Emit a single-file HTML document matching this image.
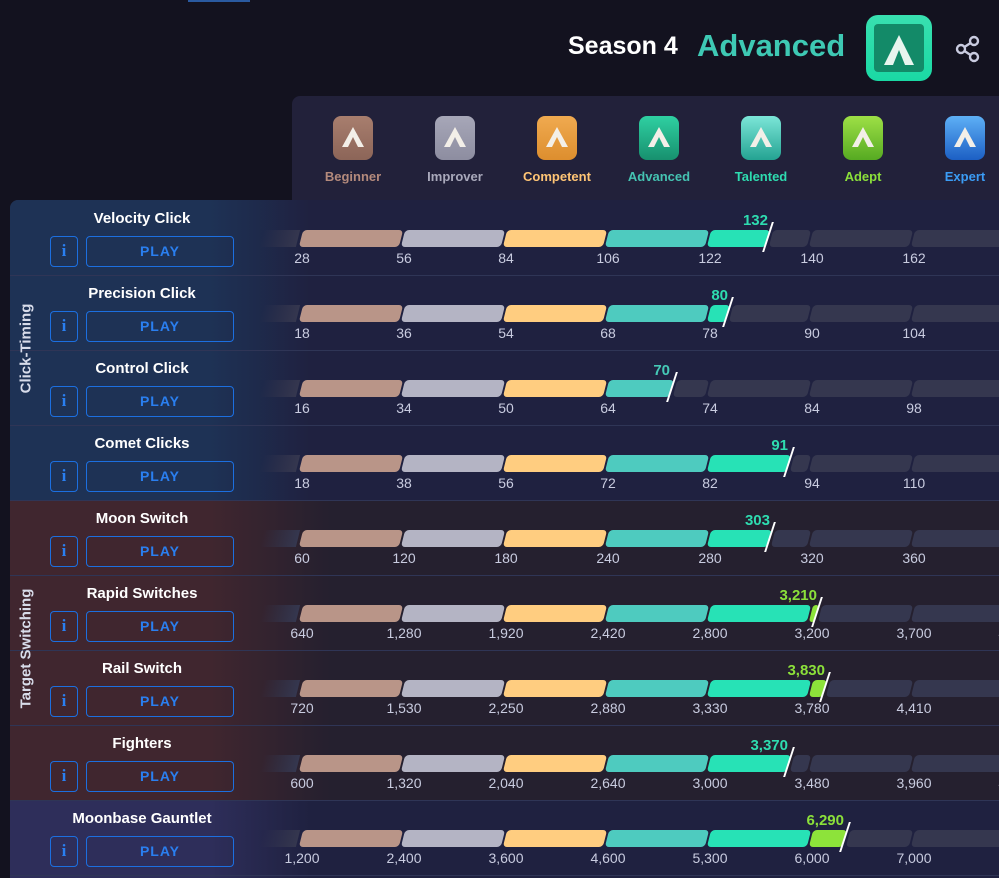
<!DOCTYPE html>
<html><head><meta charset="utf-8"><style>
*{margin:0;padding:0;box-sizing:border-box}
body{width:999px;height:878px;background:#13121f;position:relative;overflow:hidden;font-family:"Liberation Sans",sans-serif}
.a{position:absolute}
.s{position:absolute;height:17px;transform:skewX(-14deg);border-radius:4px}
.d{background:#35374f}
.c0{background:#b99588}.c1{background:#b4b4c4}.c2{background:#ffcd80}.c3{background:#4ecbbf}.c4{background:#27e2b6}.c5{background:#8de33a}
.t{position:absolute;width:80px;margin-left:-40px;text-align:center;font-size:14px;color:#c9cce0}
.nm{position:absolute;left:40px;width:204px;text-align:center;color:#fff;font-weight:bold;font-size:15px}
.ib{position:absolute;left:50px;width:28px;height:31px;border:1.5px solid #1c6fe0;border-radius:4px;color:#2a7ff0;font-weight:bold;font-size:17px;text-align:center;line-height:28px;font-family:"Liberation Serif",serif}
.pb{position:absolute;left:86px;width:148px;height:31px;border:1.5px solid #1c6fe0;border-radius:4px;color:#2a7ff0;font-weight:bold;font-size:14px;text-align:center;line-height:28px;letter-spacing:1px}
.sc{position:absolute;font-weight:bold;font-size:15px;text-align:right;width:80px}
.mk{position:absolute;width:2px;height:30px;background:#fff;transform:skewX(-18deg)}
.ln{position:absolute;left:10px;width:989px;height:1px;background:#2f3556}
.lead{position:absolute;left:262px;width:36px;height:17px;background:linear-gradient(90deg,rgba(53,55,79,0),#35374f);transform:skewX(-14deg)}
.bd{position:absolute;width:40px;height:44px;border-radius:8px}
.bd svg{position:absolute;left:9px;top:11px}
.tl{position:absolute;width:100px;margin-left:-50px;text-align:center;font-size:13px;font-weight:bold;top:169px}
.cat{position:absolute;color:#d8dcea;font-weight:bold;font-size:15px;transform:rotate(-90deg);white-space:nowrap;text-align:center;width:200px;left:-74px}
</style></head><body>
<div class="a" style="left:188px;top:0;width:62px;height:2px;background:#2a5aa0"></div>
<div class="a" style="left:568px;top:32px;color:#fff;font-weight:bold;font-size:25px">Season 4</div>
<div class="a" style="left:697px;top:28px;color:#3ec9b4;font-weight:bold;font-size:31px">Advanced</div>
<div class="a" style="left:866px;top:15px;width:66px;height:66px;border-radius:12px;background:linear-gradient(#39e0b0,#1ad9a4)"><div class="a" style="left:8px;top:9px;width:50px;height:48px;background:#138a68;border-radius:4px"></div><svg class="a" style="left:18px;top:20px" width="30" height="30"><polygon points="15,0 30,30 21,30 15,15 9,30 0,30" fill="#e8f5ee"/></svg></div>
<svg class="a" style="left:955px;top:35px" width="26" height="28"><g fill="none" stroke="#c9cbe0" stroke-width="2.4"><circle cx="19" cy="6" r="4"/><circle cx="6" cy="14" r="4"/><circle cx="19" cy="22" r="4"/><path d="M9.5 12 L15.5 8 M9.5 16 L15.5 20"/></g></svg>

<div class="a" style="left:292px;top:96px;width:707px;height:104px;background:#22213a;border-radius:8px 0 0 0"></div>
<div class="bd" style="left:333px;top:116px;background:linear-gradient(#a87e6e,#8c6558)"><svg width="22" height="20"><polygon points="11,0 22,20 16,20 11,10 6,20 0,20" fill="#f3efe8"/></svg></div>
<div class="bd" style="left:435px;top:116px;background:linear-gradient(#a7a7b8,#8d8da0)"><svg width="22" height="20"><polygon points="11,0 22,20 16,20 11,10 6,20 0,20" fill="#f3efe8"/></svg></div>
<div class="bd" style="left:537px;top:116px;background:linear-gradient(#f0aa50,#dd8e2e)"><svg width="22" height="20"><polygon points="11,0 22,20 16,20 11,10 6,20 0,20" fill="#f3efe8"/></svg></div>
<div class="bd" style="left:639px;top:116px;background:linear-gradient(#2fd0a2,#17906e)"><svg width="22" height="20"><polygon points="11,0 22,20 16,20 11,10 6,20 0,20" fill="#f3efe8"/></svg></div>
<div class="bd" style="left:741px;top:116px;background:linear-gradient(#7ce6d8,#24a392)"><svg width="22" height="20"><polygon points="11,0 22,20 16,20 11,10 6,20 0,20" fill="#f3efe8"/></svg></div>
<div class="bd" style="left:843px;top:116px;background:linear-gradient(#9ee046,#56aa22)"><svg width="22" height="20"><polygon points="11,0 22,20 16,20 11,10 6,20 0,20" fill="#f3efe8"/></svg></div>
<div class="bd" style="left:945px;top:116px;background:linear-gradient(#5eb0f6,#1c5fc4)"><svg width="22" height="20"><polygon points="11,0 22,20 16,20 11,10 6,20 0,20" fill="#f3efe8"/></svg></div>
<div class="tl" style="left:353px;color:#b48a7c">Beginner</div>
<div class="tl" style="left:455px;color:#a9a9bb">Improver</div>
<div class="tl" style="left:557px;color:#ffc575">Competent</div>
<div class="tl" style="left:659px;color:#45c3b2">Advanced</div>
<div class="tl" style="left:761px;color:#2edcb0">Talented</div>
<div class="tl" style="left:863px;color:#8be03a">Adept</div>
<div class="tl" style="left:965px;color:#3b9cf5">Expert</div>

<div class="a" style="left:10px;top:200px;width:989px;height:678px;background:#1f2140;border-radius:8px 0 0 0;overflow:hidden">
<div class="a" style="left:0;top:0;width:989px;height:300px;background:linear-gradient(90deg,#1e3255 0,#1e3255 200px,#1f2140 300px)"></div>
<div class="a" style="left:0;top:300px;width:989px;height:300px;background:linear-gradient(90deg,#40262f 0,#40262f 200px,#25202f 320px)"></div>
<div class="a" style="left:0;top:600px;width:989px;height:78px;background:linear-gradient(90deg,#2e2e5a 0,#2e2e5a 200px,#1f2140 300px)"></div>
</div>
<div class="ln" style="top:275px"></div><div class="ln" style="top:350px"></div><div class="ln" style="top:425px"></div><div class="ln" style="top:500px"></div><div class="ln" style="top:575px"></div><div class="ln" style="top:650px"></div><div class="ln" style="top:725px"></div><div class="ln" style="top:800px"></div><div class="ln" style="top:875px"></div>
<div class="cat" style="top:340px">Click-Timing</div>
<div class="cat" style="top:640px">Target Switching</div>

<!-- Row 1 -->
<div class="nm" style="top:210px">Velocity Click</div><div class="ib" style="top:236px">i</div><div class="pb" style="top:236px">PLAY</div>
<div class="lead" style="top:230px"></div>
<div class="s c0" style="left:301px;top:230px;width:100px"></div><div class="s c1" style="left:403px;top:230px;width:100px"></div><div class="s c2" style="left:505px;top:230px;width:100px"></div><div class="s c3" style="left:607px;top:230px;width:100px"></div><div class="s c4" style="left:709px;top:230px;width:59px"></div><div class="s d" style="left:771px;top:230px;width:38px"></div><div class="s d" style="left:811px;top:230px;width:100px"></div><div class="s d" style="left:913px;top:230px;width:100px"></div>
<div class="mk" style="left:767px;top:222px"></div><div class="sc" style="left:688px;top:212px;color:#2edcb0">132</div>
<div class="t" style="left:302px;top:250px">28</div><div class="t" style="left:404px;top:250px">56</div><div class="t" style="left:506px;top:250px">84</div><div class="t" style="left:608px;top:250px">106</div><div class="t" style="left:710px;top:250px">122</div><div class="t" style="left:812px;top:250px">140</div><div class="t" style="left:914px;top:250px">162</div>

<!-- Row 2 -->
<div class="nm" style="top:285px">Precision Click</div><div class="ib" style="top:311px">i</div><div class="pb" style="top:311px">PLAY</div>
<div class="lead" style="top:305px"></div>
<div class="s c0" style="left:301px;top:305px;width:100px"></div><div class="s c1" style="left:403px;top:305px;width:100px"></div><div class="s c2" style="left:505px;top:305px;width:100px"></div><div class="s c3" style="left:607px;top:305px;width:100px"></div><div class="s c4" style="left:709px;top:305px;width:19px"></div><div class="s d" style="left:731px;top:305px;width:78px"></div><div class="s d" style="left:811px;top:305px;width:100px"></div><div class="s d" style="left:913px;top:305px;width:100px"></div>
<div class="mk" style="left:727px;top:297px"></div><div class="sc" style="left:648px;top:287px;color:#2edcb0">80</div>
<div class="t" style="left:302px;top:325px">18</div><div class="t" style="left:404px;top:325px">36</div><div class="t" style="left:506px;top:325px">54</div><div class="t" style="left:608px;top:325px">68</div><div class="t" style="left:710px;top:325px">78</div><div class="t" style="left:812px;top:325px">90</div><div class="t" style="left:914px;top:325px">104</div>

<!-- Row 3 -->
<div class="nm" style="top:360px">Control Click</div><div class="ib" style="top:386px">i</div><div class="pb" style="top:386px">PLAY</div>
<div class="lead" style="top:380px"></div>
<div class="s c0" style="left:301px;top:380px;width:100px"></div><div class="s c1" style="left:403px;top:380px;width:100px"></div><div class="s c2" style="left:505px;top:380px;width:100px"></div><div class="s c3" style="left:607px;top:380px;width:65px"></div><div class="s d" style="left:675px;top:380px;width:32px"></div><div class="s d" style="left:709px;top:380px;width:100px"></div><div class="s d" style="left:811px;top:380px;width:100px"></div><div class="s d" style="left:913px;top:380px;width:100px"></div>
<div class="mk" style="left:671px;top:372px"></div><div class="sc" style="left:590px;top:362px;color:#45c9b6">70</div>
<div class="t" style="left:302px;top:400px">16</div><div class="t" style="left:404px;top:400px">34</div><div class="t" style="left:506px;top:400px">50</div><div class="t" style="left:608px;top:400px">64</div><div class="t" style="left:710px;top:400px">74</div><div class="t" style="left:812px;top:400px">84</div><div class="t" style="left:914px;top:400px">98</div>

<!-- Row 4 -->
<div class="nm" style="top:435px">Comet Clicks</div><div class="ib" style="top:461px">i</div><div class="pb" style="top:461px">PLAY</div>
<div class="lead" style="top:455px"></div>
<div class="s c0" style="left:301px;top:455px;width:100px"></div><div class="s c1" style="left:403px;top:455px;width:100px"></div><div class="s c2" style="left:505px;top:455px;width:100px"></div><div class="s c3" style="left:607px;top:455px;width:100px"></div><div class="s c4" style="left:709px;top:455px;width:80px"></div><div class="s d" style="left:792px;top:455px;width:17px"></div><div class="s d" style="left:811px;top:455px;width:100px"></div><div class="s d" style="left:913px;top:455px;width:100px"></div>
<div class="mk" style="left:788px;top:447px"></div><div class="sc" style="left:708px;top:437px;color:#2edcb0">91</div>
<div class="t" style="left:302px;top:475px">18</div><div class="t" style="left:404px;top:475px">38</div><div class="t" style="left:506px;top:475px">56</div><div class="t" style="left:608px;top:475px">72</div><div class="t" style="left:710px;top:475px">82</div><div class="t" style="left:812px;top:475px">94</div><div class="t" style="left:914px;top:475px">110</div>

<!-- Row 5 -->
<div class="nm" style="top:510px">Moon Switch</div><div class="ib" style="top:536px">i</div><div class="pb" style="top:536px">PLAY</div>
<div class="lead" style="top:530px"></div>
<div class="s c0" style="left:301px;top:530px;width:100px"></div><div class="s c1" style="left:403px;top:530px;width:100px"></div><div class="s c2" style="left:505px;top:530px;width:100px"></div><div class="s c3" style="left:607px;top:530px;width:100px"></div><div class="s c4" style="left:709px;top:530px;width:61px"></div><div class="s d" style="left:773px;top:530px;width:36px"></div><div class="s d" style="left:811px;top:530px;width:100px"></div><div class="s d" style="left:913px;top:530px;width:100px"></div>
<div class="mk" style="left:769px;top:522px"></div><div class="sc" style="left:690px;top:512px;color:#2edcb0">303</div>
<div class="t" style="left:302px;top:550px">60</div><div class="t" style="left:404px;top:550px">120</div><div class="t" style="left:506px;top:550px">180</div><div class="t" style="left:608px;top:550px">240</div><div class="t" style="left:710px;top:550px">280</div><div class="t" style="left:812px;top:550px">320</div><div class="t" style="left:914px;top:550px">360</div>

<!-- Row 6 -->
<div class="nm" style="top:585px">Rapid Switches</div><div class="ib" style="top:611px">i</div><div class="pb" style="top:611px">PLAY</div>
<div class="lead" style="top:605px"></div>
<div class="s c0" style="left:301px;top:605px;width:100px"></div><div class="s c1" style="left:403px;top:605px;width:100px"></div><div class="s c2" style="left:505px;top:605px;width:100px"></div><div class="s c3" style="left:607px;top:605px;width:100px"></div><div class="s c4" style="left:709px;top:605px;width:100px"></div><div class="s c5" style="left:811px;top:605px;width:6px"></div><div class="s d" style="left:820px;top:605px;width:91px"></div><div class="s d" style="left:913px;top:605px;width:100px"></div>
<div class="mk" style="left:816px;top:597px"></div><div class="sc" style="left:737px;top:587px;color:#8be03a">3,210</div>
<div class="t" style="left:302px;top:625px">640</div><div class="t" style="left:404px;top:625px">1,280</div><div class="t" style="left:506px;top:625px">1,920</div><div class="t" style="left:608px;top:625px">2,420</div><div class="t" style="left:710px;top:625px">2,800</div><div class="t" style="left:812px;top:625px">3,200</div><div class="t" style="left:914px;top:625px">3,700</div><div class="t" style="left:1016px;top:625px">4,200</div>

<!-- Row 7 -->
<div class="nm" style="top:660px">Rail Switch</div><div class="ib" style="top:686px">i</div><div class="pb" style="top:686px">PLAY</div>
<div class="lead" style="top:680px"></div>
<div class="s c0" style="left:301px;top:680px;width:100px"></div><div class="s c1" style="left:403px;top:680px;width:100px"></div><div class="s c2" style="left:505px;top:680px;width:100px"></div><div class="s c3" style="left:607px;top:680px;width:100px"></div><div class="s c4" style="left:709px;top:680px;width:100px"></div><div class="s c5" style="left:811px;top:680px;width:14px"></div><div class="s d" style="left:828px;top:680px;width:83px"></div><div class="s d" style="left:913px;top:680px;width:100px"></div>
<div class="mk" style="left:824px;top:672px"></div><div class="sc" style="left:745px;top:662px;color:#8be03a">3,830</div>
<div class="t" style="left:302px;top:700px">720</div><div class="t" style="left:404px;top:700px">1,530</div><div class="t" style="left:506px;top:700px">2,250</div><div class="t" style="left:608px;top:700px">2,880</div><div class="t" style="left:710px;top:700px">3,330</div><div class="t" style="left:812px;top:700px">3,780</div><div class="t" style="left:914px;top:700px">4,410</div>

<!-- Row 8 -->
<div class="nm" style="top:735px">Fighters</div><div class="ib" style="top:761px">i</div><div class="pb" style="top:761px">PLAY</div>
<div class="lead" style="top:755px"></div>
<div class="s c0" style="left:301px;top:755px;width:100px"></div><div class="s c1" style="left:403px;top:755px;width:100px"></div><div class="s c2" style="left:505px;top:755px;width:100px"></div><div class="s c3" style="left:607px;top:755px;width:100px"></div><div class="s c4" style="left:709px;top:755px;width:80px"></div><div class="s d" style="left:792px;top:755px;width:17px"></div><div class="s d" style="left:811px;top:755px;width:100px"></div><div class="s d" style="left:913px;top:755px;width:100px"></div>
<div class="mk" style="left:788px;top:747px"></div><div class="sc" style="left:708px;top:737px;color:#2edcb0">3,370</div>
<div class="t" style="left:302px;top:775px">600</div><div class="t" style="left:404px;top:775px">1,320</div><div class="t" style="left:506px;top:775px">2,040</div><div class="t" style="left:608px;top:775px">2,640</div><div class="t" style="left:710px;top:775px">3,000</div><div class="t" style="left:812px;top:775px">3,480</div><div class="t" style="left:914px;top:775px">3,960</div><div class="t" style="left:1016px;top:775px">4,440</div>

<!-- Row 9 -->
<div class="nm" style="top:810px">Moonbase Gauntlet</div><div class="ib" style="top:836px">i</div><div class="pb" style="top:836px">PLAY</div>
<div class="lead" style="top:830px"></div>
<div class="s c0" style="left:301px;top:830px;width:100px"></div><div class="s c1" style="left:403px;top:830px;width:100px"></div><div class="s c2" style="left:505px;top:830px;width:100px"></div><div class="s c3" style="left:607px;top:830px;width:100px"></div><div class="s c4" style="left:709px;top:830px;width:100px"></div><div class="s c5" style="left:811px;top:830px;width:34px"></div><div class="s d" style="left:848px;top:830px;width:63px"></div><div class="s d" style="left:913px;top:830px;width:100px"></div>
<div class="mk" style="left:844px;top:822px"></div><div class="sc" style="left:764px;top:812px;color:#8be03a">6,290</div>
<div class="t" style="left:302px;top:850px">1,200</div><div class="t" style="left:404px;top:850px">2,400</div><div class="t" style="left:506px;top:850px">3,600</div><div class="t" style="left:608px;top:850px">4,600</div><div class="t" style="left:710px;top:850px">5,300</div><div class="t" style="left:812px;top:850px">6,000</div><div class="t" style="left:914px;top:850px">7,000</div>
</body></html>
